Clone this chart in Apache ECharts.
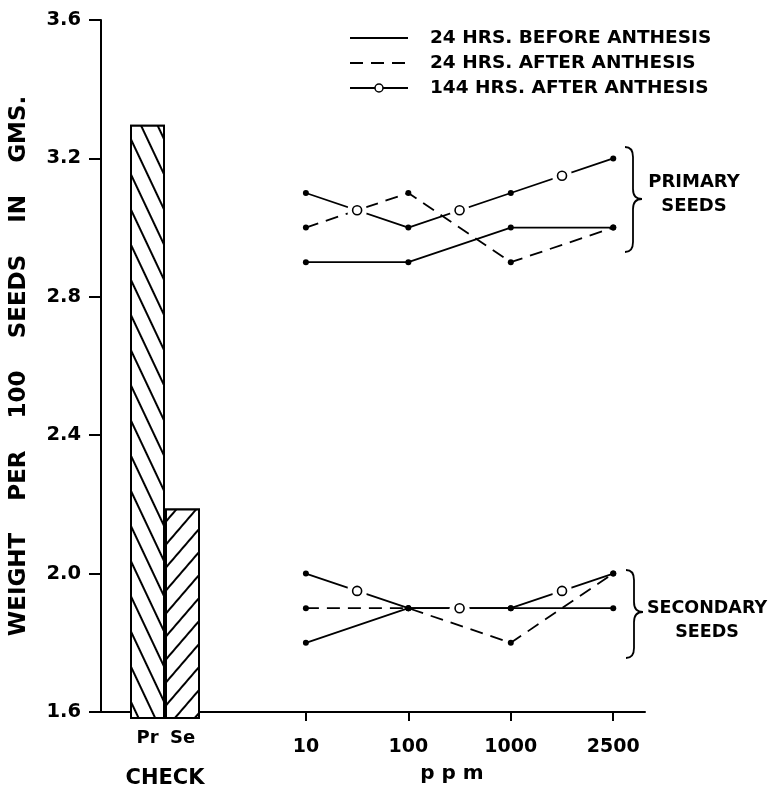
<!DOCTYPE html>
<html>
<head>
<meta charset="utf-8">
<script src="https://cdn.jsdelivr.net/npm/echarts@6/dist/echarts.min.js"></script>
<style>
  html, body { margin: 0; padding: 0; background: #fff; }
  #chart { width: 772px; height: 789px; }
</style>
</head>
<body>
<div id="chart"></div>
<script>
// 資料
const ppmLabels = ["10", "100", "1000", "2500"];
const checkLabels = ["Pr", "Se"];
const checkValues = [3.3, 2.2];
const seriesNames = ["24 HRS. BEFORE ANTHESIS", "24 HRS. AFTER ANTHESIS", "144 HRS. AFTER ANTHESIS"];
const primaryBefore = [2.9, 2.9, 3.0, 3.0];
const primaryAfter = [3.0, 3.1, 2.9, 3.0];
const primary144 = [3.1, 3.0, 3.1, 3.2];
const secondaryBefore = [1.8, 1.9, 1.9, 1.9];
const secondaryAfter = [1.9, 1.9, 1.8, 2.0];
const secondary144 = [2.0, 1.9, 1.9, 2.0];

const FONT = "DejaVu Sans";
const ppmPos = ppmLabels.map((_, i) => i + 2); // 位置: 10 在 x=2
const toPoints = arr => arr.map((v, i) => [ppmPos[i], v]);

function lineSeries(name, values, dashed) {
  return {
    type: "line",
    name: name,
    xAxisIndex: 0,
    yAxisIndex: 0,
    data: toPoints(values),
    symbol: "circle",
    symbolSize: 6,
    itemStyle: { color: "#000" },
    lineStyle: { color: "#000", width: 1.8, type: dashed ? [13, 8] : "solid" },
    z: 2,
    silent: true
  };
}

// 144 小時線段中間的空心圓
function segments(arr) {
  const out = [];
  for (let i = 0; i < arr.length - 1; i++) {
    out.push([ppmPos[i], arr[i], ppmPos[i + 1], arr[i + 1]]);
  }
  return out;
}

function hatch(rot) {
  return {
    symbol: "rect",
    symbolSize: 1,
    color: "#000",
    backgroundColor: "#fff",
    dashArrayX: [1, 0],
    dashArrayY: [1.6, 13],
    rotation: rot
  };
}

// 大括號
function brace(x, top, tip, bottom) {
  const s = { stroke: "#000", lineWidth: 1.8, fill: "none" };
  const xm = x + 8, xt = x + 17;
  return {
    type: "group",
    children: [
      { type: "bezierCurve", shape: { x1: x, y1: top, cpx1: xm, cpy1: top, x2: xm, y2: top + 10 }, style: s },
      { type: "line", shape: { x1: xm, y1: top + 10, x2: xm, y2: tip - 10 }, style: s },
      { type: "bezierCurve", shape: { x1: xm, y1: tip - 10, cpx1: xm, cpy1: tip, x2: xt, y2: tip }, style: s },
      { type: "bezierCurve", shape: { x1: xt, y1: tip, cpx1: xm, cpy1: tip, x2: xm, y2: tip + 10 }, style: s },
      { type: "line", shape: { x1: xm, y1: tip + 10, x2: xm, y2: bottom - 10 }, style: s },
      { type: "bezierCurve", shape: { x1: xm, y1: bottom - 10, cpx1: xm, cpy1: bottom, x2: x, y2: bottom }, style: s }
    ]
  };
}

const chart = echarts.init(document.getElementById("chart"));

const option = {
  animation: false,
  backgroundColor: "#fff",
  textStyle: { fontFamily: FONT, color: "#000" },
  legend: {
    orient: "vertical",
    left: 349,
    top: 28,
    padding: 0,
    itemWidth: 58,
    itemHeight: 10,
    itemGap: 5,
    selectedMode: false,
    textStyle: { fontFamily: FONT, fontSize: 18.5, fontWeight: "bold", color: "#000", lineHeight: 20, padding: [0, 0, 0, 17] },
    data: [
      { name: seriesNames[0], itemStyle: { opacity: 0 } },
      { name: seriesNames[1], itemStyle: { opacity: 0 } },
      { name: seriesNames[2], itemStyle: { color: "#fff", borderColor: "#000", borderWidth: 1.5 } }
    ]
  },
  grid: [
    { left: 98, right: 127, top: 20, bottom: 71 },
    { left: 98, width: 134, top: 20, bottom: 71 }
  ],
  xAxis: [
    {
      type: "value",
      gridIndex: 0,
      min: 0,
      max: 5.31,
      axisLine: { show: true, lineStyle: { color: "#000", width: 2 } },
      axisTick: { show: true, customValues: ppmPos, length: 9, lineStyle: { color: "#000", width: 2 } },
      axisLabel: {
        customValues: ppmPos,
        formatter: v => ppmLabels[Math.round(v) - 2],
        margin: 26,
        fontFamily: FONT, fontSize: 19, fontWeight: "bold", color: "#000"
      },
      splitLine: { show: false },
      name: "p p m",
      nameLocation: "middle",
      nameGap: 52,
      nameTextStyle: { fontFamily: FONT, fontSize: 20, fontWeight: "bold", color: "#000", padding: [0, 0, 0, 158] }
    },
    {
      type: "category",
      gridIndex: 1,
      data: ["CHECK"],
      axisLine: { show: false },
      axisTick: { show: false },
      axisLabel: { margin: 50, fontFamily: FONT, fontSize: 21, fontWeight: "bold", color: "#000" }
    }
  ],
  yAxis: [
    {
      type: "value",
      gridIndex: 0,
      min: 1.6,
      max: 3.6,
      interval: 0.4,
      axisLine: { show: true, lineStyle: { color: "#000", width: 2 } },
      axisTick: { show: true, length: 12, lineStyle: { color: "#000", width: 2 } },
      axisLabel: {
        formatter: v => v.toFixed(1),
        margin: 20,
        fontFamily: FONT, fontSize: 19.5, fontWeight: "bold", color: "#000"
      },
      splitLine: { show: false },
      name: "WEIGHT    PER    100    SEEDS    IN    GMS.",
      nameLocation: "middle",
      nameGap: 70,
      nameTextStyle: { fontFamily: FONT, fontSize: 23, fontWeight: "bold", color: "#000" }
    },
    { type: "value", gridIndex: 1, min: 1.6, max: 3.6, show: false }
  ],
  series: [
    {
      type: "bar",
      name: checkLabels[0],
      xAxisIndex: 1,
      yAxisIndex: 1,
      data: [checkValues[0]],
      barWidth: 35,
      barGap: "0%",
      itemStyle: { color: "#fff", borderColor: "#000", borderWidth: 2, decal: hatch(1.13) },
      label: { show: true, position: "bottom", distance: 10, formatter: "{a}", fontFamily: FONT, fontSize: 18, fontWeight: "bold", color: "#000" },
      silent: true
    },
    {
      type: "bar",
      name: checkLabels[1],
      xAxisIndex: 1,
      yAxisIndex: 1,
      data: [checkValues[1]],
      barWidth: 35,
      barGap: "0%",
      itemStyle: { color: "#fff", borderColor: "#000", borderWidth: 2, decal: hatch(-0.86) },
      label: { show: true, position: "bottom", distance: 10, formatter: "{a}", fontFamily: FONT, fontSize: 18, fontWeight: "bold", color: "#000" },
      silent: true
    },
    lineSeries(seriesNames[0], primaryBefore, false),
    lineSeries(seriesNames[0], secondaryBefore, false),
    lineSeries(seriesNames[1], primaryAfter, true),
    lineSeries(seriesNames[1], secondaryAfter, true),
    lineSeries(seriesNames[2], primary144, false),
    lineSeries(seriesNames[2], secondary144, false),
    {
      type: "custom",
      name: "circles",
      xAxisIndex: 0,
      yAxisIndex: 0,
      data: segments(primary144).concat(segments(secondary144)),
      encode: { x: [0, 2], y: [1, 3] },
      z: 3,
      silent: true,
      renderItem: (params, api) => {
        const a = api.coord([api.value(0), api.value(1)]);
        const b = api.coord([api.value(2), api.value(3)]);
        const cx = (a[0] + b[0]) / 2;
        const cy = (a[1] + b[1]) / 2;
        return {
          type: "group",
          children: [
            { type: "circle", shape: { cx: cx, cy: cy, r: 10 }, style: { fill: "#fff" } },
            { type: "circle", shape: { cx: cx, cy: cy, r: 4.5 }, style: { fill: "#fff", stroke: "#000", lineWidth: 1.6 } }
          ]
        };
      }
    }
  ],
  graphic: [
    brace(625, 147, 199, 252),
    brace(626, 570, 612, 658),
    {
      type: "text",
      x: 694, y: 194,
      style: { text: "PRIMARY\nSEEDS", fill: "#000", font: "bold 18px 'DejaVu Sans'", textAlign: "center", textVerticalAlign: "middle", lineHeight: 24 }
    },
    {
      type: "text",
      x: 707, y: 620,
      style: { text: "SECONDARY\nSEEDS", fill: "#000", font: "bold 17.5px 'DejaVu Sans'", textAlign: "center", textVerticalAlign: "middle", lineHeight: 24 }
    }
  ]
};

chart.setOption(option);
</script>
</body>
</html>
